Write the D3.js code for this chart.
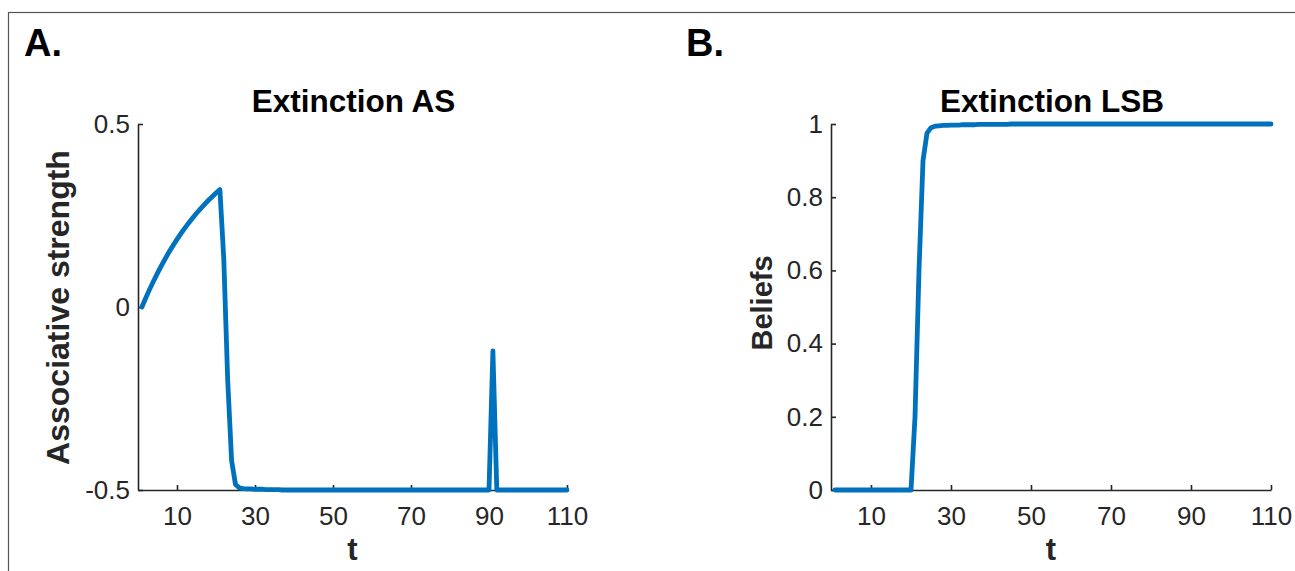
<!DOCTYPE html>
<html>
<head>
<meta charset="utf-8">
<script src="https://cdn.jsdelivr.net/npm/d3@7"></script>
<style>
  html, body { margin: 0; padding: 0; background: #ffffff; }
  svg { display: block; }
  text { font-family: "Liberation Sans", Arial, Helvetica, sans-serif; }
</style>
</head>
<body>
<svg id="chart" width="1295" height="571"></svg>
<script>
// ---------------- DATA ----------------
const trialsA = d3.range(1, 111); // t = 1..110
const associativeStrength = [
  0, 0.025, 0.0488, 0.0713, 0.0927, 0.1131, 0.1324, 0.1508, 0.1683, 0.1848,
  0.2006, 0.2156, 0.2298, 0.2433, 0.2561, 0.2683, 0.2799, 0.2909, 0.3014, 0.3113,
  0.3208, 0.13, -0.2, -0.42, -0.485, -0.494, -0.496, -0.497, -0.497, -0.498,
  -0.498, -0.498, -0.499, -0.499, -0.499, -0.499, -0.5, -0.5, -0.5, -0.5,
  -0.5, -0.5, -0.5, -0.5, -0.5, -0.5, -0.5, -0.5, -0.5, -0.5,
  -0.5, -0.5, -0.5, -0.5, -0.5, -0.5, -0.5, -0.5, -0.5, -0.5,
  -0.5, -0.5, -0.5, -0.5, -0.5, -0.5, -0.5, -0.5, -0.5, -0.5,
  -0.5, -0.5, -0.5, -0.5, -0.5, -0.5, -0.5, -0.5, -0.5, -0.5,
  -0.5, -0.5, -0.5, -0.5, -0.5, -0.5, -0.5, -0.5, -0.5, -0.5,
  -0.12, -0.5, -0.5, -0.5, -0.5, -0.5, -0.5, -0.5, -0.5, -0.5,
  -0.5, -0.5, -0.5, -0.5, -0.5, -0.5, -0.5, -0.5, -0.5, -0.5
];
const trialsB = d3.range(1, 111);
const beliefs = [
  0, 0, 0, 0, 0, 0, 0, 0, 0, 0,
  0, 0, 0, 0, 0, 0, 0, 0, 0, 0,
  0.2, 0.6, 0.9, 0.975, 0.99, 0.994, 0.995, 0.996, 0.996, 0.997,
  0.997, 0.997, 0.998, 0.998, 0.998, 0.998, 0.999, 0.999, 0.999, 0.999,
  0.999, 0.999, 0.999, 0.999, 1, 1, 1, 1, 1, 1,
  1, 1, 1, 1, 1, 1, 1, 1, 1, 1,
  1, 1, 1, 1, 1, 1, 1, 1, 1, 1,
  1, 1, 1, 1, 1, 1, 1, 1, 1, 1,
  1, 1, 1, 1, 1, 1, 1, 1, 1, 1,
  1, 1, 1, 1, 1, 1, 1, 1, 1, 1,
  1, 1, 1, 1, 1, 1, 1, 1, 1, 1
];
const xTicks = [10, 30, 50, 70, 90, 110];
const yTicksA = [-0.5, 0, 0.5];
const yTickLabelsA = ["-0.5", "0", "0.5"];
const yTicksB = [0, 0.2, 0.4, 0.6, 0.8, 1];
const yTickLabelsB = ["0", "0.2", "0.4", "0.6", "0.8", "1"];
const panelLetters = ["A.", "B."];
const titles = ["Extinction AS", "Extinction LSB"];
const yLabels = ["Associative strength", "Beliefs"];
const xLabel = "t";

// ---------------- DRAW ----------------
const svg = d3.select("#chart");
const axisColor = "#262626";
const lineColor = "#0072BD";

// outer frame
svg.append("rect")
  .attr("x", 8.5).attr("y", 12.5)
  .attr("width", 1400).attr("height", 700)
  .attr("fill", "none").attr("stroke", "#555").attr("stroke-width", 1.2);

function panel(cfg) {
  const x = d3.scaleLinear().domain([0, 110]).range(cfg.xr);
  const y = d3.scaleLinear().domain(cfg.yd).range([490, 124]);
  const g = svg.append("g");

  // axes
  const xa = g.append("g").attr("transform", "translate(0,490)")
    .call(d3.axisBottom(x).tickValues(xTicks).tickFormat(d3.format("d"))
      .tickSizeInner(-5).tickSizeOuter(0).tickPadding(17));
  const ya = g.append("g").attr("transform", `translate(${cfg.xr[0]},0)`)
    .call(d3.axisLeft(y).tickValues(cfg.yTicks)
      .tickFormat((d, i) => cfg.yLabels[i])
      .tickSizeInner(-5).tickSizeOuter(0).tickPadding(8));
  [xa, ya].forEach(a => {
    a.select(".domain").attr("stroke", axisColor).attr("stroke-width", 1.6);
    a.selectAll(".tick line").attr("stroke", axisColor).attr("stroke-width", 1.6);
    a.selectAll(".tick text").attr("fill", axisColor)
      .style("font-size", "26px").style("font-family", "'Liberation Sans', Arial, sans-serif");
  });

  // line
  const line = d3.line().x((d, i) => x(cfg.t[i])).y(d => y(d));
  g.append("path").datum(cfg.values)
    .attr("d", line)
    .attr("fill", "none")
    .attr("stroke", lineColor)
    .attr("stroke-width", 4.8)
    .attr("stroke-linejoin", "round")
    .attr("stroke-linecap", "round");

  const cx = (cfg.xr[0] + cfg.xr[1]) / 2;
  // title
  g.append("text").attr("x", cx + 1).attr("y", 112)
    .attr("text-anchor", "middle").attr("font-weight", "bold")
    .style("font-size", "31.5px").attr("fill", "#000").text(cfg.title);
  // x label
  g.append("text").attr("x", cx).attr("y", 560)
    .attr("text-anchor", "middle").attr("font-weight", "bold")
    .style("font-size", "31px").attr("fill", axisColor).text(xLabel);
  // y label
  g.append("text")
    .attr("transform", `translate(${cfg.ylx},${cfg.ly}) rotate(-90)`)
    .attr("text-anchor", "middle").attr("font-weight", "bold")
    .style("font-size", cfg.lfs).attr("fill", axisColor).text(cfg.ylabel);
  // panel letter
  g.append("text").attr("x", cfg.letterX).attr("y", 56)
    .attr("font-weight", "bold").style("font-size", "38px")
    .attr("fill", "#000").text(cfg.letter);
}

panel({
  xr: [138, 567], yd: [-0.5, 0.5], yTicks: yTicksA, yLabels: yTickLabelsA,
  t: trialsA, values: associativeStrength, title: titles[0],
  ylabel: yLabels[0], ylx: 69, ly: 307.5, lfs: "32px", letter: panelLetters[0], letterX: 24
});
panel({
  xr: [831, 1271], yd: [0, 1], yTicks: yTicksB, yLabels: yTickLabelsB,
  t: trialsB, values: beliefs, title: titles[1],
  ylabel: yLabels[1], ylx: 772, ly: 303, lfs: "29px", letter: panelLetters[1], letterX: 686
});
</script>
</body>
</html>
